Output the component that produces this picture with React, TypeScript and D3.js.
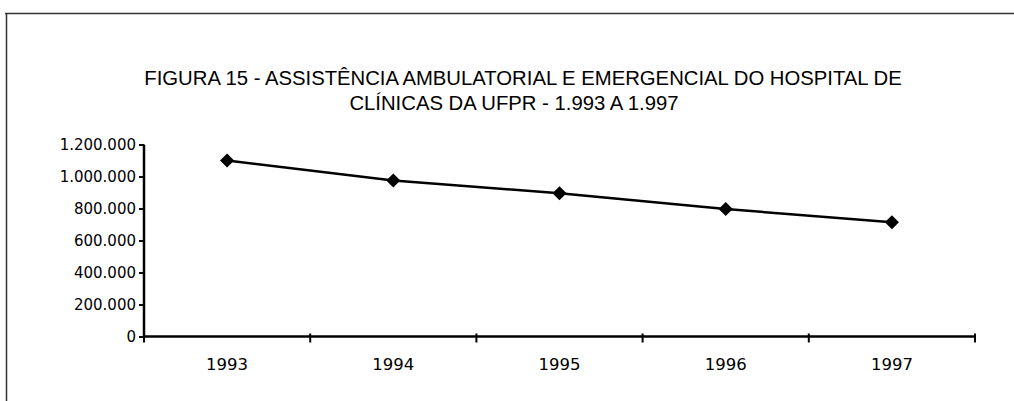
import React, { useRef, useEffect } from 'react';
import { select, scaleBand, scaleLinear, axisLeft, axisBottom, line, symbol, symbolSquare, formatLocale } from 'd3';

const years = ['1993', '1994', '1995', '1996', '1997'];
const atendimentos = [1100000, 975000, 895000, 797000, 714000];
const yTicks = [0, 200000, 400000, 600000, 800000, 1000000, 1200000];
const titleLines = [
  'FIGURA 15 - ASSISTÊNCIA AMBULATORIAL E EMERGENCIAL DO HOSPITAL DE',
  'CLÍNICAS DA UFPR - 1.993 A 1.997',
];

const ptBR = formatLocale({ decimal: ',', thousands: '.', grouping: [3], currency: ['R$', ''] });
const fmt = ptBR.format(',d');

const App = () => {
  const svgRef = useRef<SVGSVGElement>(null);

  useEffect(() => {
    const svg = select(svgRef.current);
    svg.selectAll('*').remove();

    const x = scaleBand().domain(years).range([144, 975]).padding(0);
    const y = scaleLinear().domain([0, 1200000]).range([336.5, 144.5]);

    // frame (top and left only, like the scan)
    svg.append('path')
      .attr('d', 'M5,13.5H1014M6.5,13V401')
      .attr('stroke', '#333')
      .attr('stroke-width', 1.5)
      .attr('fill', 'none');

    // second line sits a bit left of the first in the scan
    svg.append('g')
      .selectAll('text')
      .data(titleLines)
      .join('text')
      .attr('x', (d, i) => (i === 0 ? 523 : 514))
      .attr('y', (d, i) => 85 + i * 25)
      .attr('text-anchor', 'middle')
      .attr('font-family', '"Liberation Sans", Arial, sans-serif')
      .attr('font-size', 20.3)
      .attr('fill', '#000')
      .text(d => d);

    const yAxis = axisLeft(y).tickValues(yTicks).tickFormat(d => fmt(d as number)).tickSize(5).tickPadding(3);
    const gy = svg.append('g').attr('transform', 'translate(144,0)').call(yAxis);
    gy.select('.domain').attr('stroke', '#000').attr('stroke-width', 2.5).attr('d', `M0,${y(1200000)}V${y(0)}`);
    gy.selectAll('.tick line').attr('stroke', '#000').attr('stroke-width', 2);
    gy.selectAll('.tick text')
      .attr('font-family', '"DejaVu Sans", sans-serif')
      .attr('font-size', 15)
      .attr('fill', '#000');

    const xAxis = axisBottom(x).tickSize(0).tickPadding(22);
    const gx = svg.append('g').attr('transform', `translate(0,${y(0)})`).call(xAxis);
    gx.select('.domain').attr('stroke', '#000').attr('stroke-width', 2.5).attr('d', `M${x.range()[0]},0H${x.range()[1]}`);
    gx.selectAll('.tick text')
      .attr('font-family', '"DejaVu Sans", sans-serif')
      .attr('font-size', 16.5)
      .attr('fill', '#000');

    // category boundary ticks
    const bounds = years.map(d => x(d) as number).concat([x.range()[1]]);
    gx.selectAll('.bound')
      .data(bounds)
      .join('line')
      .attr('class', 'bound')
      .attr('x1', d => d)
      .attr('x2', d => d)
      .attr('y1', -3)
      .attr('y2', 6)
      .attr('stroke', '#000')
      .attr('stroke-width', 2);

    const cx = (d: string) => (x(d) as number) + x.bandwidth() / 2;

    const myLine = line<number>()
      .x((v, i) => cx(years[i]))
      .y(v => y(v));

    svg.append('path')
      .datum(atendimentos)
      .attr('d', myLine)
      .attr('fill', 'none')
      .attr('stroke', '#000')
      .attr('stroke-width', 2.5);

    svg.append('g')
      .selectAll('path')
      .data(atendimentos)
      .join('path')
      .attr('d', symbol(symbolSquare, 100))
      .attr('transform', (v, i) => `translate(${cx(years[i])},${y(v)}) rotate(45)`)
      .attr('fill', '#000');
  }, []);

  return (
    <svg
      ref={svgRef}
      width={1014}
      height={401}
      style={{ position: 'absolute', left: 0, top: 0, background: '#fff' }}
    />
  );
};

export default App;
